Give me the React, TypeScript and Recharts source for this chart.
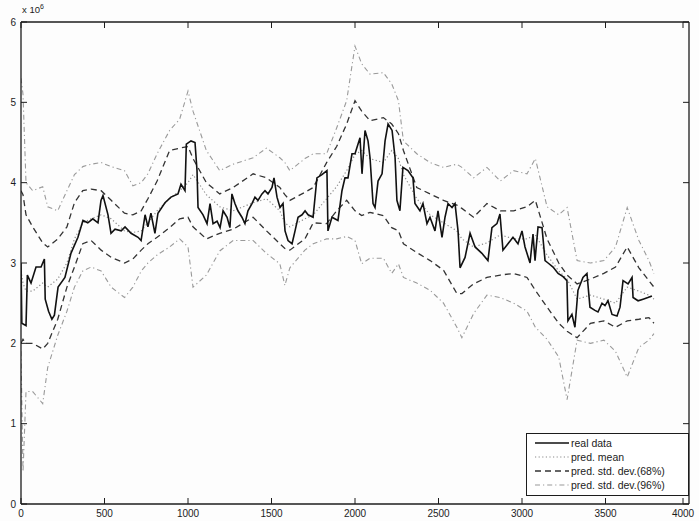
import { LineChart, Line, XAxis, YAxis, Legend } from "recharts";

// real data (solid line), x = sample index, y in units of 10^6
const realX = [
  0, 5, 30, 38, 60, 90, 120, 140, 145, 165, 185, 200, 222, 263, 299, 341, 371, 400, 430, 461,
  479, 491, 521, 539, 563, 600, 623, 659, 701, 719, 743, 760, 778, 802, 820, 862, 898, 940, 958, 982,
  990, 1018, 1042, 1054, 1060, 1090, 1114, 1132, 1150, 1174, 1192, 1210, 1234, 1251, 1263, 1281, 1299, 1323, 1341, 1359,
  1383, 1401, 1419, 1443, 1461, 1479, 1503, 1515, 1533, 1551, 1569, 1581, 1599, 1623, 1641, 1659, 1683, 1701, 1719, 1749,
  1772, 1802, 1832, 1838, 1862, 1898, 1922, 1940, 1958, 1982, 2000, 2030, 2042, 2060, 2078, 2090, 2108, 2120, 2138, 2162,
  2180, 2198, 2222, 2240, 2251, 2269, 2287, 2317, 2347, 2359, 2389, 2407, 2431, 2449, 2479, 2497, 2521, 2539, 2557, 2581,
  2599, 2617, 2629, 2659, 2689, 2719, 2760, 2796, 2820, 2850, 2868, 2886, 2916, 2946, 2976, 3000, 3018, 3048, 3066, 3078,
  3096, 3120, 3138, 3156, 3186, 3216, 3246, 3269, 3275, 3299, 3317, 3335, 3365, 3389, 3407, 3437, 3455, 3479, 3497, 3515,
  3539, 3569, 3587, 3605, 3635, 3659, 3665, 3695, 3725, 3754, 3778,
];
const realY = [
  3.0, 2.25, 2.22, 2.85, 2.75, 2.95, 2.95, 3.05, 2.55, 2.4, 2.3, 2.35, 2.7, 2.82, 3.12, 3.32, 3.53, 3.5, 3.55, 3.5,
  3.78, 3.84, 3.6, 3.37, 3.42, 3.4, 3.45, 3.37, 3.32, 3.28, 3.6, 3.45, 3.62, 3.37, 3.62, 3.75, 3.82, 3.86, 3.98, 3.9,
  4.48, 4.52, 4.5, 4.15, 3.69, 3.6, 3.49, 3.74, 3.49, 3.52, 3.44, 3.65, 3.57, 3.44, 3.86, 3.74, 3.65, 3.57, 3.49, 3.65,
  3.74, 3.82, 3.78, 3.86, 3.9, 3.86, 3.94, 4.06, 3.82, 3.69, 3.74, 3.4, 3.28, 3.24, 3.4, 3.57, 3.6, 3.65, 3.6, 3.57,
  4.06, 4.1, 4.15, 3.4, 3.57, 3.53, 3.9, 4.06, 4.06, 4.36, 4.36, 4.56, 4.11, 4.65, 4.52, 4.31, 3.74, 3.69, 4.02, 4.11,
  4.52, 4.73, 4.65, 4.31, 3.78, 3.65, 4.19, 4.15, 4.06, 3.74, 3.65, 3.74, 3.49, 3.57, 3.4, 3.65, 3.32, 3.57, 3.74, 3.69,
  3.74, 3.4, 2.94, 3.07, 3.37, 3.2, 3.12, 3.03, 3.44, 3.49, 3.61, 3.16, 3.24, 3.32, 3.24, 3.4, 3.2, 3.0, 3.36, 3.03,
  3.45, 3.44, 3.03, 3.0, 2.95, 2.87, 2.83, 2.78, 2.28, 2.36, 2.2, 2.66, 2.82, 2.87, 2.45, 2.41, 2.39, 2.5, 2.47, 2.53,
  2.36, 2.34, 2.45, 2.78, 2.74, 2.82, 2.57, 2.53, 2.55, 2.57, 2.59,
];

// prediction bands, read on a coarser grid
const bandX = [
  0, 12, 30, 70, 130, 160, 220, 275, 320, 370, 420, 480, 540, 620, 670, 720, 760, 815, 890, 950,
  1000, 1030, 1110, 1190, 1270, 1390, 1470, 1550, 1580, 1610, 1700, 1750, 1830, 1890, 1950, 2000, 2040, 2090, 2170, 2220,
  2260, 2290, 2370, 2450, 2530, 2610, 2640, 2710, 2790, 2870, 2950, 3030, 3080, 3150, 3220, 3270, 3330, 3410, 3490, 3560,
  3630, 3700, 3760, 3790,
];
const upper96 = [
  5.3, 5.1, 4.0, 3.9, 3.95, 3.7, 3.65, 3.9, 4.1, 4.2, 4.23, 4.25, 4.2, 4.15, 3.96, 4.0, 4.11, 4.36, 4.65, 4.79,
  5.14, 4.89, 4.4, 4.15, 4.23, 4.31, 4.43, 4.31, 4.25, 4.15, 4.3, 4.36, 4.36, 4.68, 5.02, 5.7, 5.48, 5.35, 5.37, 5.23,
  5.02, 4.52, 4.36, 4.25, 4.19, 4.23, 4.19, 4.06, 4.19, 4.02, 4.15, 4.11, 4.3, 3.7, 3.6, 3.69, 3.03, 3.0, 3.03, 3.2,
  3.69, 3.28, 3.03, 2.87,
];
const upper68 = [
  3.9, 3.85, 3.6, 3.45, 3.25, 3.2, 3.3, 3.45, 3.75, 3.9, 3.92, 3.9, 3.78, 3.62, 3.6, 3.65, 3.8, 4.02, 4.4, 4.43,
  4.45, 4.3, 4.0, 3.86, 3.94, 4.11, 4.06, 3.94, 3.85, 3.78, 3.88, 3.94, 4.25, 4.45, 4.73, 5.02, 4.89, 4.77, 4.81, 4.73,
  4.61, 4.4, 3.94, 3.86, 3.78, 3.72, 3.68, 3.57, 3.74, 3.65, 3.65, 3.7, 3.78, 3.3, 3.0, 2.85, 2.74, 2.8, 2.87, 2.95,
  3.2, 2.94, 2.78, 2.7,
];
const predMean = [
  2.9, 2.75, 2.65, 2.65, 2.75, 2.7, 2.8, 3.0, 3.3, 3.5, 3.55, 3.6, 3.55, 3.4, 3.38, 3.4, 3.5, 3.65, 3.8, 3.9,
  4.0, 4.1, 3.85, 3.7, 3.65, 3.75, 3.8, 3.65, 3.5, 3.45, 3.55, 3.6, 3.8, 3.95, 4.15, 4.35, 4.4, 4.3, 4.25, 4.4,
  4.3, 4.1, 3.8, 3.6, 3.5, 3.4, 3.3, 3.2, 3.25, 3.35, 3.3, 3.3, 3.35, 3.1, 2.9, 2.8, 2.55, 2.6, 2.55, 2.5,
  2.7, 2.65, 2.6, 2.55,
];
const lower68 = [
  2.0, 2.05, 2.0, 2.0, 1.93, 2.0, 2.3, 2.7, 2.95, 3.24, 3.28, 3.16, 3.07, 3.0, 3.05, 3.16, 3.24, 3.32, 3.44, 3.55,
  3.57, 3.45, 3.3, 3.37, 3.42, 3.57, 3.4, 3.24, 3.18, 3.16, 3.3, 3.5, 3.49, 3.65, 3.78, 3.65, 3.59, 3.63, 3.59, 3.44,
  3.4, 3.24, 3.13, 3.03, 2.91, 2.62, 2.62, 2.74, 2.82, 2.85, 2.87, 2.82, 2.66, 2.45, 2.25, 2.15, 2.07, 2.25, 2.28, 2.2,
  2.28, 2.3, 2.32, 2.25,
];
const lower96 = [
  1.9, 0.4, 1.4, 1.4, 1.25, 1.7, 2.1, 2.4, 2.7, 2.9, 2.95, 2.9, 2.7, 2.57, 2.7, 2.9, 3.0, 3.1, 3.2, 3.3,
  3.2, 2.7, 2.85, 3.15, 3.28, 3.28, 3.12, 2.99, 2.72, 2.94, 3.16, 3.24, 3.3, 3.3, 3.33, 3.28, 2.99, 3.06, 3.06, 2.87,
  2.99, 2.82, 2.75, 2.66, 2.5, 2.2, 2.07, 2.37, 2.6, 2.57, 2.5, 2.4, 2.2, 2.05, 1.83, 1.3, 2.04, 2.0, 2.04, 1.9,
  1.58, 1.95, 2.04, 2.12,
];

const xTicks = [0, 500, 1000, 1500, 2000, 2500, 3000, 3500, 4000];
const yTicks = [0, 1, 2, 3, 4, 5, 6];

const realData = realX.map((x, i) => ({ x, y: realY[i] }));
const bandData = bandX.map((x, i) => ({
  x,
  u96: upper96[i],
  u68: upper68[i],
  mean: predMean[i],
  l68: lower68[i],
  l96: lower96[i],
}));

const FONT = "'Liberation Sans', Arial, sans-serif";
const INK = "#1c1c1c";

const styles: Record<string, { stroke: string; dash?: string; width: number }> = {
  "real data": { stroke: "#111", width: 1.6 },
  "pred. mean": { stroke: "#8a8a8a", dash: "1.2 2.4", width: 1.2 },
  "pred. std. dev.(68%)": { stroke: "#333", dash: "6 4", width: 1.3 },
  "pred. std. dev.(96%)": { stroke: "#9a9a9a", dash: "5 3 1.2 3", width: 1.1 },
};
const legendOrder = Object.keys(styles);

const LeftTick = ({ x, y, payload }: any) => (
  <g>
    <line x1={x + 4} y1={y} x2={x + 10} y2={y} stroke={INK} />
    <text x={x - 1} y={y} dy={3.5} textAnchor="end" fontSize={10} fontFamily={FONT} fill={INK}>
      {payload.value}
    </text>
  </g>
);

const RightTick = ({ x, y }: any) => <line x1={x} y1={y} x2={x - 6} y2={y} stroke={INK} />;

const BottomTick = ({ x, y, payload }: any) => (
  <g>
    <line x1={x} y1={y - 3} x2={x} y2={y - 9} stroke={INK} />
    <text x={x} y={y} dy={10} textAnchor="middle" fontSize={10} fontFamily={FONT} fill={INK}>
      {payload.value}
    </text>
  </g>
);

const TopTick = ({ x, y }: any) => <line x1={x} y1={y} x2={x} y2={y + 6} stroke={INK} />;

const LegendBox = ({ payload }: any) => {
  const items = (payload || [])
    .filter((p: any) => styles[p.value])
    .sort((a: any, b: any) => legendOrder.indexOf(a.value) - legendOrder.indexOf(b.value));
  return (
    <div style={{ border: `1px solid ${INK}`, background: "#fff", width: 161, height: 59, paddingTop: 2, boxSizing: "content-box" }}>
      {items.map((p: any) => {
        const s = styles[p.value];
        return (
          <div key={p.value} style={{ display: "flex", alignItems: "center", height: 14, lineHeight: "12px" }}>
            <svg width={44} height={10} style={{ flex: "none" }}>
              <line x1={8} y1={5} x2={42} y2={5} stroke={s.stroke} strokeWidth={s.width} strokeDasharray={s.dash} />
            </svg>
            <span style={{ fontSize: 10.5, lineHeight: "12px", fontFamily: FONT, color: INK, whiteSpace: "nowrap" }}>{p.value}</span>
          </div>
        );
      })}
    </div>
  );
};

export default function App() {
  return (
    <div style={{ position: "absolute", left: 0, top: 0, width: 699, height: 521, background: "#fdfdfd" }}>
      <div style={{ position: "absolute", left: 22, top: 3, fontSize: 9.5, fontFamily: FONT, color: INK }}>
        x 10<sup style={{ fontSize: 7 }}>6</sup>
      </div>
      <LineChart width={699} height={521} margin={{ top: 21, right: 9, bottom: 0, left: 0 }}>
        <XAxis
          dataKey="x"
          type="number"
          domain={[0, 4000]}
          ticks={xTicks}
          allowDataOverflow
          height={17}
          tickSize={0}
          tickMargin={3}
          tick={<BottomTick />}
          axisLine={{ stroke: INK, strokeWidth: 1.3 }}
        />
        <XAxis
          xAxisId="top"
          orientation="top"
          dataKey="x"
          type="number"
          domain={[0, 4000]}
          ticks={xTicks}
          allowDataOverflow
          height={1}
          tickSize={0}
          tickMargin={0}
          tick={<TopTick />}
          axisLine={{ stroke: INK, strokeWidth: 1.3 }}
        />
        <YAxis
          type="number"
          domain={[0, 6]}
          ticks={yTicks}
          allowDataOverflow
          width={21}
          tickSize={0}
          tickMargin={4}
          tick={<LeftTick />}
          axisLine={{ stroke: INK, strokeWidth: 1.3 }}
        />
        <YAxis
          yAxisId="right"
          orientation="right"
          type="number"
          domain={[0, 6]}
          ticks={yTicks}
          allowDataOverflow
          width={1}
          tickSize={0}
          tickMargin={0}
          tick={<RightTick />}
          axisLine={{ stroke: INK, strokeWidth: 1.3 }}
        />
        <Legend
          layout="vertical"
          align="center"
          verticalAlign="middle"
          content={<LegendBox />}
          wrapperStyle={{ position: "absolute", left: 526, top: 433, width: 163, height: 61 }}
        />
        {/* invisible series so the top / right box axes get drawn */}
        <Line data={bandData} dataKey="mean" xAxisId="top" yAxisId="right" name="frame" legendType="none" stroke="none" dot={false} activeDot={false} isAnimationActive={false} />
        <Line data={bandData} dataKey="u96" name="pred. std. dev.(96%)" stroke={styles["pred. std. dev.(96%)"].stroke} strokeWidth={1.1} strokeDasharray="5 3 1.2 3" dot={false} isAnimationActive={false} />
        <Line data={bandData} dataKey="l96" name="lower96" legendType="none" stroke={styles["pred. std. dev.(96%)"].stroke} strokeWidth={1.1} strokeDasharray="5 3 1.2 3" dot={false} isAnimationActive={false} />
        <Line data={bandData} dataKey="mean" name="pred. mean" stroke={styles["pred. mean"].stroke} strokeWidth={1.2} strokeDasharray="1.2 2.4" dot={false} isAnimationActive={false} />
        <Line data={bandData} dataKey="u68" name="pred. std. dev.(68%)" stroke={styles["pred. std. dev.(68%)"].stroke} strokeWidth={1.3} strokeDasharray="6 4" dot={false} isAnimationActive={false} />
        <Line data={bandData} dataKey="l68" name="lower68" legendType="none" stroke={styles["pred. std. dev.(68%)"].stroke} strokeWidth={1.3} strokeDasharray="6 4" dot={false} isAnimationActive={false} />
        <Line data={realData} dataKey="y" name="real data" stroke="#111" strokeWidth={1.6} dot={false} isAnimationActive={false} />
      </LineChart>
    </div>
  );
}
